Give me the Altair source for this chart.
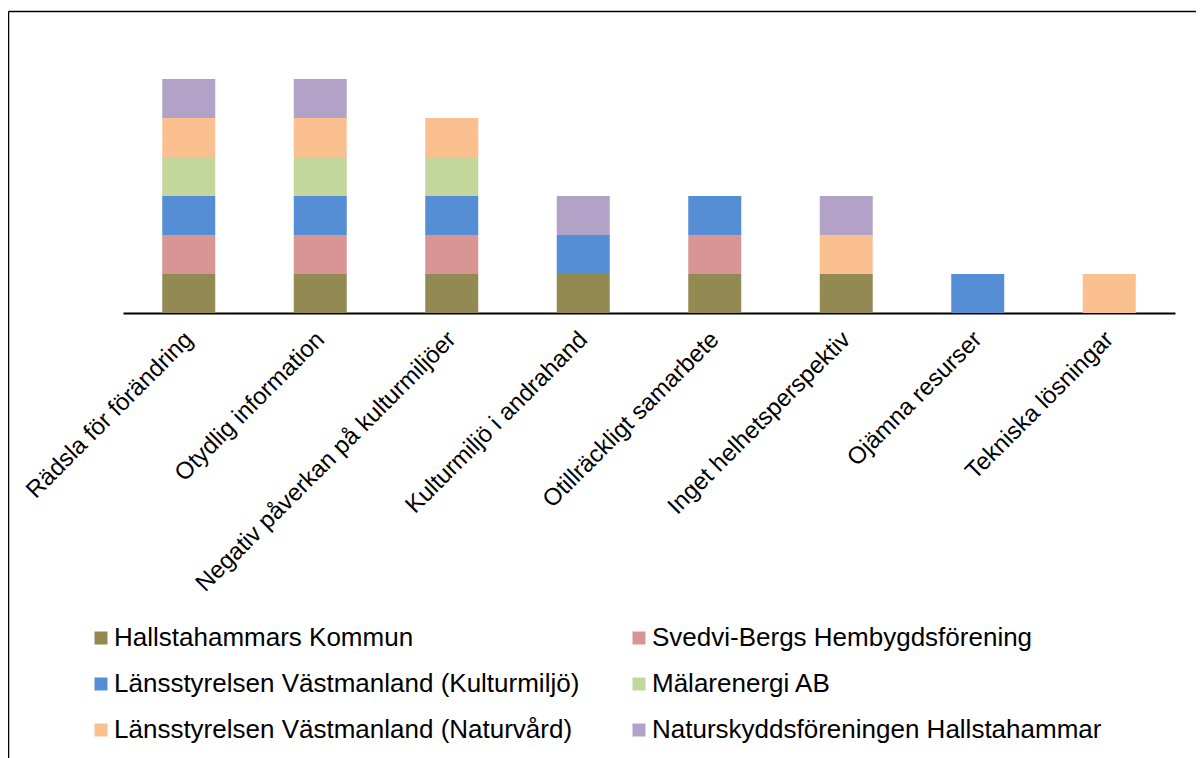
import altair as alt
import pandas as pd

categories = [
    "Rädsla för förändring",
    "Otydlig information",
    "Negativ påverkan på kulturmiljöer",
    "Kulturmiljö i andrahand",
    "Otillräckligt samarbete",
    "Inget helhetsperspektiv",
    "Ojämna resurser",
    "Tekniska lösningar",
]

series = [
    "Hallstahammars Kommun",
    "Svedvi-Bergs Hembygdsförening",
    "Länsstyrelsen Västmanland (Kulturmiljö)",
    "Mälarenergi AB",
    "Länsstyrelsen Västmanland (Naturvård)",
    "Naturskyddsföreningen Hallstahammar",
]

hallstahammar = [1, 1, 1, 1, 1, 1, 0, 0]
svedvi = [1, 1, 1, 0, 1, 0, 0, 0]
lst_kultur = [1, 1, 1, 1, 1, 0, 1, 0]
malarenergi = [1, 1, 1, 0, 0, 0, 0, 0]
lst_natur = [1, 1, 1, 0, 0, 1, 0, 1]
naturskydd = [1, 1, 0, 1, 0, 1, 0, 0]

colors = ["#938953", "#D99594", "#558ED5", "#C3D69B", "#FAC090", "#B3A2C7"]

# legend is filled column by column; reorder so it reads row by row
legend_order = [0, 2, 4, 1, 3, 5]
legend_domain = [series[i] for i in legend_order]
legend_range = [colors[i] for i in legend_order]

values = [hallstahammar, svedvi, lst_kultur, malarenergi, lst_natur, naturskydd]
rows = []
for si, (s, vals) in enumerate(zip(series, values)):
    for c, v in zip(categories, vals):
        if v:
            rows.append({"Kategori": c, "Aktör": s, "Antal": v, "ordning": si})
df = pd.DataFrame(rows)

FONT = "Liberation Sans"

bars = alt.Chart(df).mark_bar(size=53).encode(
    x=alt.X(
        "Kategori:N",
        sort=categories,
        scale=alt.Scale(paddingInner=0, paddingOuter=0),
        axis=alt.Axis(
            title=None,
            labelAngle=-45,
            labelFontSize=24,
            labelFont=FONT,
            labelColor="black",
            labelPadding=14,
            labelOffset=-8,
            ticks=False,
            domainColor="black",
            domainWidth=2,
            labelLimit=600,
        ),
    ),
    y=alt.Y(
        "sum(Antal):Q",
        stack="zero",
        scale=alt.Scale(domain=[0, 6], nice=False),
        axis=None,
    ),
    color=alt.Color(
        "Aktör:N",
        scale=alt.Scale(domain=legend_domain, range=legend_range),
        legend=alt.Legend(
            title=None,
            orient="none",
            legendX=-35,
            legendY=546,
            columns=2,
            columnPadding=46,
            rowPadding=20,
            symbolType="square",
            symbolSize=169,
            symbolStrokeWidth=0,
            labelFontSize=26,
            labelFont=FONT,
            labelColor="black",
            labelOffset=0,
            labelLimit=800,
        ),
    ),
    order=alt.Order("ordning:Q", sort="ascending"),
)

frame = pd.DataFrame({"a": [0]})
left_border = alt.Chart(frame).mark_rule(color="black", strokeWidth=1.5).encode(
    x=alt.value(-114.5),
    y=alt.value(-67.5),
    y2=alt.value(900),
)
top_border = alt.Chart(frame).mark_rule(color="black", strokeWidth=1.5).encode(
    x=alt.value(-114.5),
    x2=alt.value(1300),
    y=alt.value(-67.5),
)

chart = alt.layer(left_border, top_border, bars).properties(
    width=1052,
    height=234,
    background="white",
    autosize=alt.AutoSizeParams(type="none"),
    padding={"left": 115, "top": 71, "right": 21, "bottom": 445},
).configure_view(stroke=None, strokeWidth=0)

chart.save("out.html", embed_options={"renderer": "svg", "actions": False})
